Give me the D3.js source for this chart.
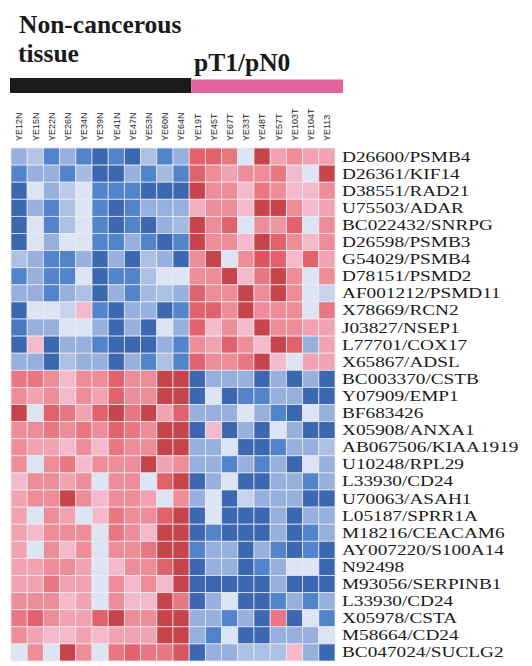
<!DOCTYPE html>
<html>
<head>
<meta charset="utf-8">
<script src="https://cdn.jsdelivr.net/npm/d3@7/dist/d3.min.js"></script>
<style>
  html, body { margin: 0; padding: 0; background: #fff; }
  svg { display: block; }
</style>
</head>
<body>
<svg id="chart" width="532" height="666"></svg>
<script>
// ---- Data ----
const samples = ["YE12N","YE15N","YE22N","YE26N","YE34N","YE39N","YE41N","YE47N","YE53N","YE60N","YE64N",
                 "YE19T","YE45T","YE67T","YE33T","YE48T","YE57T","YE103T","YE104T","YE113"];
const groups = ["Non-cancerous tissue", "pT1/pN0"];
const groupSizes = [11, 9];
const genes = ["D26600/PSMB4","D26361/KIF14","D38551/RAD21","U75503/ADAR","BC022432/SNRPG","D26598/PSMB3",
  "G54029/PSMB4","D78151/PSMD2","AF001212/PSMD11","X78669/RCN2","J03827/NSEP1","L77701/COX17","X65867/ADSL",
  "BC003370/CSTB","Y07909/EMP1","BF683426","X05908/ANXA1","AB067506/KIAA1919","U10248/RPL29","L33930/CD24",
  "U70063/ASAH1","L05187/SPRR1A","M18216/CEACAM6","AY007220/S100A14","N92498","M93056/SERPINB1",
  "L33930/CD24","X05978/CSTA","M58664/CD24","BC047024/SUCLG2"];
// relative expression (negative = low/blue, positive = high/red)
const expr = [
  [-1,-0.6,-2,-1,-2,-2.5,-2,-2.5,-0.7,-2,-1,   3,3,2.5,0,3.5,1.5,2,1.5,1.5],
  [-2,-1,-1,-2,-0.8,-2.5,-2.5,-1,-2,-0.8,-2,    3,2,1.5,2,2,2.5,1,0,3.5],
  [-2.5,0,-1,-0.5,0,-2,-2,-2,-2.5,-2.5,-2.5,    3.5,2,2,1,2.5,2,1,1,2],
  [-2.5,-1,-2,-0.7,0,-2,-2.5,-2,-1,-1,-1,       1.2,2,2,1,3.5,3.5,2,1,1.5],
  [-2.5,0,-2,-0.7,0,-2,-2.5,-2,-2.5,-1,-0.8,    3.5,2,3,0,2,1.8,3,0,2],
  [-2.5,0,-1,0,0,-2,-2,-1,-2,-2.7,-2,           3.5,2,2,1,3.5,3,2,1,2],
  [-0.7,-1,-2,-2,-1,-2.5,-1,-2.5,-0.7,-1,-2.5,  2,3.5,0,2,3.2,3,1,3,1.5],
  [-2,-1,-2,-2,0,-2.5,-2,-2,-0.7,0,0,           2,2,3.5,1,2.5,3.5,2,0,2],
  [-1,-1,-2,-1,-0.7,-2.5,-1,-2,-0.8,-0.7,-1,    3,2,2,3.5,2,3.5,2,0,-0.3],
  [-2.5,0,0,-0.3,1,-2,-2.5,-1,-1,-2.5,-2,       3,3,2,3.5,2,2,2,0,2.5],
  [-2.2,-1,-1,0,0,-1,-2.5,-1,-2.5,0,-1,         3,1,2,1,3.5,2,2,1.5,1.5],
  [-2.5,1,-2.5,-1,-1,-2,-2.5,-2.5,-2.5,-1,-2,   2,1.5,3,2,1,3.5,3,-1,1.5],
  [-1,-1,-2.5,-0.7,-1,-1,-2.5,-1,-2,-0.7,-2,    3,2,2,2.5,3.5,1,0,1.5,1.5],
  [2.5,2.5,2,1,2,2,3,2,2,3.5,3.5,               -2.5,-1,-1,-1,-2.5,-1,-2.5,-1,-2.5],
  [2,1.5,2,1,2,1.5,3,2,2,3.5,3.5,               -2.5,0,-2.5,-2,-2,-1,-1,-2.5,-2.5],
  [3.5,0,3,2.5,1.5,3,3.5,2.5,3.5,1.5,3,         -1,-1,-1,0,-1,-2,-2.5,0,-1],
  [2,2,2.5,2,2.5,2,3,2.5,2,3.5,3.5,             -2.5,1,-2.5,-1,-2.5,0,-1,-2.5,-2.5],
  [2,1.5,1.5,1,2,1,2.5,2,2,3.5,3.5,             -1,-1,0,-2.5,-2.5,-2,-1,-1,-0.7],
  [2,0,2,2.5,1,2,2,2,3.5,1.5,2,                 -1,-1,-2,-1,-2,-1,-2.5,0,-1],
  [1,2,2,1.5,2,0,2,2,0,3,3.5,                   -2.5,-1,0,-2.5,-2.5,-1,-1,-2,-1],
  [1.5,2,2,3.5,2,1,2,2,1.5,0,2,                 -1,0,-2.5,-0.3,-1,-1,-1,-2.5,-2.5],
  [1.5,0,2,1.5,0,1,2.5,2,2,3,3.5,               -2.5,0,-2.5,-2.5,-2.5,-1,-2.5,-1,-1],
  [1.5,1,2,2,2,0,2.5,2,1,3.5,3.5,               -2.5,-2,-2.5,-2.5,-2.5,-1,-2.5,-2,-1],
  [1.5,0,2,1,2,0,2,2,2.5,3.5,3.5,               -2,-1,-1,-2.5,-1,-2,-2.5,-2,-2.5],
  [1.5,1.5,2,2,1.5,0,1,2,2,3,3.5,               -2.5,-1,-1,-2.5,-2,-1,0,0,-2.5],
  [1.5,1.5,2.5,1.5,1.5,0,2,1,2,1,3.5,           -2.5,-2.5,-2.5,-2.5,-2.5,-1,-2.5,-2.5,-2.5],
  [2,2,2,1,1.5,0,2,1,1,3.5,2.5,                 -2.5,-1,0,-2.5,-2.5,-2,-1,-2,-1],
  [2.5,3,2,1.5,1.5,3,3.5,2,2,3.5,3.5,           -1,-1,-2,-1,-2.5,2.5,-2.5,0,-2],
  [2,1.5,1,1,1.5,1,1.5,1.5,1.5,3.5,3.5,         -1,-2,0,-2.5,-2.5,-1,-1,-1,0],
  [0,2,0,3.5,2,0,2.5,3,2.5,2.5,3.2,             -2.5,-1,-1,-0.7,-0.7,-0.7,1,-1,-2.5]
];

// ---- Layout ----
const svg = d3.select("#chart");
const hm = {x0: 11, x1: 335, y0: 148, y1: 661};

const x = d3.scaleBand().domain(samples).range([hm.x0, hm.x1]).padding(0);
const y = d3.scaleBand().domain(d3.range(genes.length)).range([hm.y0, hm.y1]).padding(0);

const color = d3.scaleLinear()
  .domain([-2.5, -2, -1, 0, 1, 2, 3, 3.5])
  .range(["#3b68b1", "#5184cb", "#97b0de", "#dde4f3", "#f5b9cc", "#ee8c98", "#e1626c", "#c8444b"])
  .clamp(true);

// cells
const cells = [];
expr.forEach((row, r) => row.forEach((v, c) => cells.push({r, c, v})));
svg.append("g").selectAll("rect").data(cells).join("rect")
  .attr("x", d => x(samples[d.c]))
  .attr("y", d => y(d.r))
  .attr("width", x.bandwidth())
  .attr("height", y.bandwidth())
  .attr("fill", d => color(d.v))
  .attr("stroke", "#ececf2")
  .attr("stroke-width", 0.9)
  .attr("stroke-opacity", 0.8);

// group bars
const bars = [
  {g: groups[0], x0: 10, x1: x(samples[groupSizes[0]]) + 2, y: 78, h: 15, fill: "#1c1a1b"},
  {g: groups[1], x0: x(samples[groupSizes[0]]) + 2, x1: 343, y: 79.5, h: 13.5, fill: "#e2639b"}
];
svg.append("g").selectAll("rect").data(bars).join("rect")
  .attr("x", d => d.x0).attr("y", d => d.y)
  .attr("width", d => d.x1 - d.x0).attr("height", d => d.h)
  .attr("fill", d => d.fill);

// group titles
const titleFont = "'Liberation Serif', 'Times New Roman', serif";
const titles = [
  {t: "Non-cancerous", x: 19, y: 33},
  {t: "tissue", x: 18, y: 62},
  {t: groups[1], x: 194, y: 71}
];
svg.append("g").selectAll("text").data(titles).join("text")
  .attr("x", d => d.x).attr("y", d => d.y)
  .attr("font-family", titleFont).attr("font-weight", "bold").attr("font-size", 25.5)
  .attr("fill", "#1a1a1a").text(d => d.t);

// column labels
svg.append("g").selectAll("text").data(samples).join("text")
  .attr("transform", d => `translate(${x(d) + x.bandwidth() / 2 + 3.2},141) rotate(-90)`)
  .attr("font-family", "'Liberation Sans', Arial, sans-serif")
  .attr("font-size", 9)
  .attr("fill", "#2a2a2a")
  .text(d => d);

// row labels (horizontally stretched serif to match the original's wide type)
svg.append("g").selectAll("text").data(genes).join("text")
  .attr("transform", (d, i) => `translate(342,${y(i) + y.bandwidth() / 2 + 5}) scale(1.32,1)`)
  .attr("font-family", titleFont)
  .attr("font-size", 14.6)
  .attr("fill", "#1a1a1a")
  .text(d => d);
</script>
</body>
</html>
